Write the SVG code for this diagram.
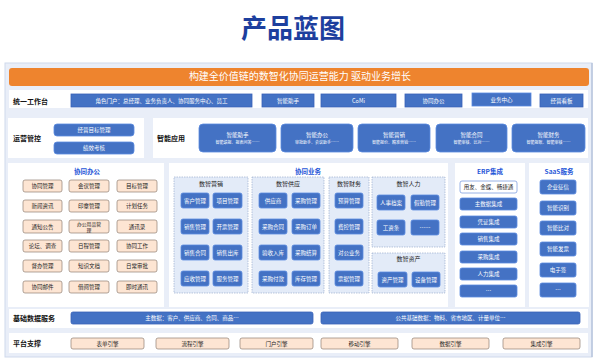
<svg xmlns="http://www.w3.org/2000/svg" width="600" height="361" viewBox="0 0 600 361">
<defs>
<style>
text{font-family:"Noto Sans CJK SC","Noto Sans",sans-serif;}
.panel{fill:#ffffff;}
.lbl{font-size:7px;font-weight:bold;fill:#111;}
.b{fill:#4472c4;stroke:#3a62b8;stroke-width:0.8;}
.br{fill:#4472c4;stroke:#5b8ae0;stroke-width:0.8;}
.bt{fill:#fff;font-size:5.5px;text-anchor:middle;}
.bt2{fill:#fff;font-size:4px;text-anchor:middle;}
.pe{fill:#fde5d3;stroke:#8f7f74;stroke-width:0.7;}
.pt{fill:#222;font-size:5.5px;text-anchor:middle;}
.pts{fill:#222;font-size:4.8px;text-anchor:middle;}
.sec{fill:#1f56d8;font-size:6.5px;font-weight:bold;text-anchor:middle;}
.sub{fill:#e3ebf8;stroke:#8ea3c8;stroke-width:0.6;stroke-dasharray:1.5 1;}
.st{fill:#222;font-size:6px;text-anchor:middle;}
</style>
</defs>
<rect width="600" height="361" fill="#ffffff"/>
<text x="293" y="38" font-size="26" font-weight="bold" fill="#1d3f9e" text-anchor="middle">产品蓝图</text>

<g id="frame">
<rect x="5" y="63" width="587" height="294" fill="#e9eef8" stroke="#cfd9ec" stroke-width="1"/>
<line x1="592" y1="63" x2="592" y2="357" stroke="#b9c6dc" stroke-width="1.5"/>
</g>

<g id="banner">
<rect x="9" y="68" width="580" height="18" rx="3" fill="#ee842e"/>
<text x="300" y="80" font-size="10" fill="#fff" text-anchor="middle">构建全价值链的数智化协同运营能力 驱动业务增长</text>
</g>

<g id="row-workbench">
<rect class="panel" x="9" y="90" width="579" height="18"/>
<text class="lbl" x="13" y="104">统一工作台</text>
<rect class="b" x="71" y="94" width="181" height="13"/><text class="bt" x="161.5" y="102.5">角色门户：总经理、业务负责人、协同服务中心、员工</text>
<rect class="b" x="262" y="94" width="52" height="13"/><text class="bt" x="288" y="102.5">智能助手</text>
<rect class="b" x="321" y="94" width="75" height="13"/><text class="bt" x="358.5" y="102.5">CoMi</text>
<rect class="b" x="405" y="94" width="57" height="13"/><text class="bt" x="433.5" y="102.5">协同办公</text>
<rect class="br" x="472" y="93" width="59" height="13"/><text class="bt" x="501.5" y="101.5">业务中心</text>
<rect class="b" x="540" y="94" width="43" height="13"/><text class="bt" x="561.5" y="102.5">经营看板</text>
</g>

<g id="row-ops">
<rect class="panel" x="8" y="118" width="136" height="40"/>
<text class="lbl" x="13" y="141">运营管控</text>
<rect class="br" x="54" y="124" width="80" height="12" rx="3"/><text class="bt" x="94" y="132">经营目标管理</text>
<rect class="br" x="54" y="142" width="80" height="12" rx="3"/><text class="bt" x="94" y="150">绩效考核</text>
</g>

<g id="row-ai">
<rect class="panel" x="153" y="118" width="435" height="40"/>
<text class="lbl" x="157" y="141">智能应用</text>
<rect class="br" x="199" y="124" width="77" height="28" rx="4"/><text class="bt" x="237.5" y="137">智能助手</text><text class="bt2" x="237.5" y="143.5">智能填报、报表问答……</text>
<rect class="br" x="281" y="124" width="72" height="28" rx="4"/><text class="bt" x="317" y="137">智能办公</text><text class="bt2" x="317" y="143.5">审批助手、会议助手……</text>
<rect class="br" x="358" y="124" width="72" height="28" rx="4"/><text class="bt" x="394" y="137">智能营销</text><text class="bt2" x="394" y="143.5">智能报价、精准营销……</text>
<rect class="br" x="436" y="124" width="71" height="28" rx="4"/><text class="bt" x="471.5" y="137">智能合同</text><text class="bt2" x="471.5" y="143.5">智能审核、比对……</text>
<rect class="br" x="512" y="124" width="73" height="28" rx="4"/><text class="bt" x="548.5" y="137">智能财务</text><text class="bt2" x="548.5" y="143.5">智能报账、智能审核……</text>
</g>

<g id="oa">
<rect class="panel" x="8" y="163" width="156" height="144"/>
<text class="sec" x="87" y="174">协同办公</text>
<rect class="pe" x="23" y="180" width="39" height="12" rx="2"/><text class="pt" x="42.5" y="188">协同管理</text>
<rect class="pe" x="69" y="180" width="40" height="12" rx="2"/><text class="pt" x="89" y="188">会议管理</text>
<rect class="pe" x="117" y="180" width="40" height="12" rx="2"/><text class="pt" x="137" y="188">目标管理</text>
<rect class="pe" x="23" y="200" width="39" height="12" rx="2"/><text class="pt" x="42.5" y="208">新闻资讯</text>
<rect class="pe" x="69" y="200" width="40" height="12" rx="2"/><text class="pt" x="89" y="208">印章管理</text>
<rect class="pe" x="117" y="200" width="40" height="12" rx="2"/><text class="pt" x="137" y="208">计划任务</text>
<rect class="pe" x="23" y="220" width="39" height="13" rx="2"/><text class="pt" x="42.5" y="228.5">通知公告</text>
<rect class="pe" x="69" y="220" width="40" height="13" rx="2"/><text class="pts" x="89" y="225.6">办公用品管</text><text class="pts" x="89" y="231.6">理</text>
<rect class="pe" x="117" y="220" width="40" height="13" rx="2"/><text class="pt" x="137" y="228.5">通讯录</text>
<rect class="pe" x="23" y="240" width="39" height="12" rx="2"/><text class="pt" x="42.5" y="248">论坛、调查</text>
<rect class="pe" x="69" y="240" width="40" height="12" rx="2"/><text class="pt" x="89" y="248">日程管理</text>
<rect class="pe" x="117" y="240" width="40" height="12" rx="2"/><text class="pt" x="137" y="248">协同工作</text>
<rect class="pe" x="23" y="260" width="39" height="12" rx="2"/><text class="pt" x="42.5" y="268">督办管理</text>
<rect class="pe" x="69" y="260" width="40" height="12" rx="2"/><text class="pt" x="89" y="268">知识文档</text>
<rect class="pe" x="117" y="260" width="40" height="12" rx="2"/><text class="pt" x="137" y="268">日常审批</text>
<rect class="pe" x="23" y="281" width="39" height="12" rx="2"/><text class="pt" x="42.5" y="289">协同邮件</text>
<rect class="pe" x="69" y="281" width="40" height="12" rx="2"/><text class="pt" x="89" y="289">借阅管理</text>
<rect class="pe" x="117" y="281" width="40" height="12" rx="2"/><text class="pt" x="137" y="289">即时通讯</text>
</g>

<g id="biz">
<rect class="panel" x="169" y="163" width="279" height="144"/>
<text class="sec" x="308" y="174">协同业务</text>
</g>

<g id="marketing">
<rect class="sub" x="174" y="177" width="74" height="116"/>
<text class="st" x="211" y="186">数智营销</text>
<rect class="br" x="181" y="193" width="28" height="15" rx="2"/><text class="bt" x="195" y="202.5">客户管理</text>
<rect class="br" x="213" y="193" width="29" height="15" rx="2"/><text class="bt" x="227.5" y="202.5">项目管理</text>
<rect class="br" x="181" y="219" width="28" height="15" rx="2"/><text class="bt" x="195" y="228.5">销售管理</text>
<rect class="br" x="213" y="219" width="29" height="15" rx="2"/><text class="bt" x="227.5" y="228.5">开票管理</text>
<rect class="br" x="181" y="245" width="28" height="15" rx="2"/><text class="bt" x="195" y="254.5">销售合同</text>
<rect class="br" x="213" y="245" width="29" height="15" rx="2"/><text class="bt" x="227.5" y="254.5">销售出库</text>
<rect class="br" x="181" y="271" width="28" height="15" rx="2"/><text class="bt" x="195" y="280.5">应收管理</text>
<rect class="br" x="213" y="271" width="29" height="15" rx="2"/><text class="bt" x="227.5" y="280.5">服务管理</text>
</g>

<g id="supply">
<rect class="sub" x="252" y="177" width="72" height="116"/>
<text class="st" x="288" y="186">数智供应</text>
<rect class="br" x="259" y="193" width="28" height="15" rx="2"/><text class="bt" x="273" y="202.5">供应商</text>
<rect class="br" x="292" y="193" width="28" height="15" rx="2"/><text class="bt" x="306" y="202.5">采购管理</text>
<rect class="br" x="259" y="219" width="28" height="15" rx="2"/><text class="bt" x="273" y="228.5">采购合同</text>
<rect class="br" x="292" y="219" width="28" height="15" rx="2"/><text class="bt" x="306" y="228.5">采购订单</text>
<rect class="br" x="259" y="245" width="28" height="15" rx="2"/><text class="bt" x="273" y="254.5">验收入库</text>
<rect class="br" x="292" y="245" width="28" height="15" rx="2"/><text class="bt" x="306" y="254.5">采购结算</text>
<rect class="br" x="259" y="271" width="28" height="15" rx="2"/><text class="bt" x="273" y="280.5">采购付款</text>
<rect class="br" x="292" y="271" width="28" height="15" rx="2"/><text class="bt" x="306" y="280.5">库存管理</text>
</g>

<g id="finance">
<rect class="sub" x="329" y="177" width="40" height="116"/>
<text class="st" x="349" y="186">数智财务</text>
<rect class="br" x="335" y="193" width="28" height="15" rx="2"/><text class="bt" x="349" y="202.5">预算管理</text>
<rect class="br" x="335" y="219" width="28" height="15" rx="2"/><text class="bt" x="349" y="228.5">费控管理</text>
<rect class="br" x="335" y="245" width="28" height="15" rx="2"/><text class="bt" x="349" y="254.5">对公业务</text>
<rect class="br" x="335" y="271" width="28" height="15" rx="2"/><text class="bt" x="349" y="280.5">票据管理</text>
</g>

<g id="hr">
<rect class="sub" x="372" y="177" width="73" height="70"/>
<text class="st" x="408.5" y="186">数智人力</text>
<rect class="br" x="377" y="195" width="28" height="15" rx="2"/><text class="bt" x="391" y="204.5">人事档案</text>
<rect class="br" x="411" y="195" width="28" height="15" rx="2"/><text class="bt" x="425" y="204.5">假勤管理</text>
<rect class="br" x="377" y="220" width="28" height="15" rx="2"/><text class="bt" x="391" y="229.5">工资条</text>
<rect class="br" x="411" y="220" width="28" height="15" rx="2"/><text class="bt" x="425" y="229.5">……</text>
</g>

<g id="asset">
<rect class="sub" x="372" y="253" width="73" height="40"/>
<text class="st" x="408.5" y="261">数智资产</text>
<rect class="br" x="378" y="272" width="29" height="15" rx="2"/><text class="bt" x="392.5" y="281.5">资产管理</text>
<rect class="br" x="412" y="272" width="28" height="15" rx="2"/><text class="bt" x="426" y="281.5">设备管理</text>
</g>

<g id="erp">
<rect class="panel" x="455" y="163" width="70" height="144"/>
<text class="sec" x="490" y="174">ERP集成</text>
<rect x="460" y="181" width="57" height="12" rx="2" fill="#fff" stroke="#7f9fe0" stroke-width="0.8"/><text class="pt" x="488.5" y="189">用友、金蝶、畅捷通</text>
<rect class="br" x="460" y="198" width="57" height="12" rx="2"/><text class="bt" x="488.5" y="206">主数据集成</text>
<rect class="br" x="460" y="216" width="57" height="12" rx="2"/><text class="bt" x="488.5" y="224">凭证集成</text>
<rect class="br" x="460" y="233" width="57" height="12" rx="2"/><text class="bt" x="488.5" y="241">销售集成</text>
<rect class="br" x="460" y="251" width="57" height="12" rx="2"/><text class="bt" x="488.5" y="259">采购集成</text>
<rect class="br" x="460" y="268" width="57" height="12" rx="2"/><text class="bt" x="488.5" y="276">人力集成</text>
<rect class="br" x="460" y="285" width="57" height="12" rx="2"/><text class="bt" x="488.5" y="293">…</text>
</g>

<g id="saas">
<rect class="panel" x="529" y="163" width="60" height="144"/>
<text class="sec" x="559" y="174">SaaS服务</text>
<rect class="br" x="540" y="180" width="36" height="14" rx="2"/><text class="bt" x="558" y="189">企业征信</text>
<rect class="br" x="540" y="201" width="36" height="14" rx="2"/><text class="bt" x="558" y="210">智能识别</text>
<rect class="br" x="540" y="221" width="36" height="14" rx="2"/><text class="bt" x="558" y="230">智能比对</text>
<rect class="br" x="540" y="242" width="36" height="14" rx="2"/><text class="bt" x="558" y="251">智能发票</text>
<rect class="br" x="540" y="263" width="36" height="14" rx="2"/><text class="bt" x="558" y="272">电子签</text>
<rect class="br" x="540" y="283" width="36" height="14" rx="2"/><text class="bt" x="558" y="292">…</text>
</g>

<g id="row-data">
<rect class="panel" x="9" y="309" width="579" height="19"/>
<text class="lbl" x="13" y="321">基础数据服务</text>
<rect class="b" x="71" y="312" width="242" height="12" rx="2"/><text class="bt" x="192" y="320">主数据：客户、供应商、合同、商品…</text>
<rect class="b" x="321" y="312" width="259" height="12" rx="2"/><text class="bt" x="450.5" y="320">公共基础数据：物料、省市地区、计量单位…</text>
</g>

<g id="row-platform">
<rect class="panel" x="9" y="333" width="579" height="20"/>
<text class="lbl" x="13" y="346">平台支撑</text>
<rect class="pe" x="71" y="338" width="73" height="11" rx="2"/><text class="pt" x="107.5" y="345.5">表单引擎</text>
<rect class="pe" x="156" y="338" width="73" height="11" rx="2"/><text class="pt" x="192.5" y="345.5">流程引擎</text>
<rect class="pe" x="240" y="338" width="73" height="11" rx="2"/><text class="pt" x="276.5" y="345.5">门户引擎</text>
<rect class="pe" x="321" y="338" width="77" height="11" rx="2"/><text class="pt" x="359.5" y="345.5">移动引擎</text>
<rect class="pe" x="412" y="338" width="77" height="11" rx="2"/><text class="pt" x="450.5" y="345.5">数据引擎</text>
<rect class="pe" x="503" y="338" width="77" height="11" rx="2"/><text class="pt" x="541.5" y="345.5">集成引擎</text>
</g>
<g id="connectors"></g>
</svg>
